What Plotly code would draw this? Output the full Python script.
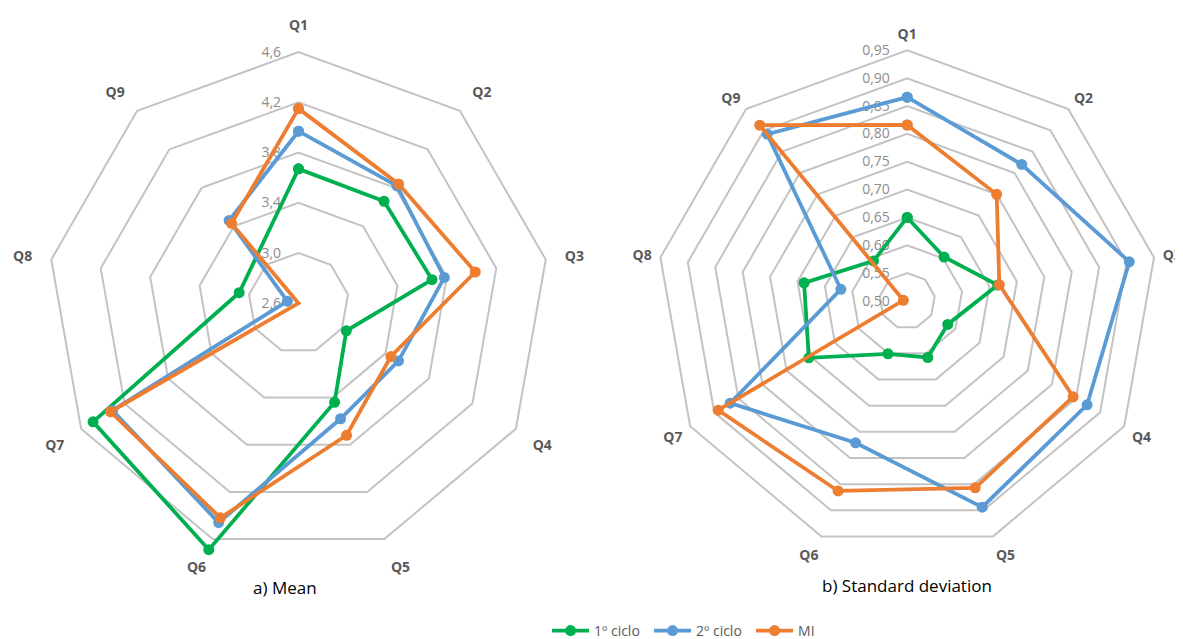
import plotly.graph_objects as go

categories = ["Q1", "Q2", "Q3", "Q4", "Q5", "Q6", "Q7", "Q8", "Q9"]

# a) Mean
mean_1ciclo = [3.67, 3.66, 3.68, 3.04, 3.44, 4.69, 4.49, 3.08, None]
mean_2ciclo = [3.97, 3.82, 3.78, 3.52, 3.58, 4.46, 4.31, 2.69, 3.46]
mean_mi = [4.15, 3.84, 4.03, 3.45, 3.72, 4.42, 4.33, 2.55, 3.43]

# b) Standard deviation
sd_1ciclo = [0.650, 0.603, 0.665, 0.584, 0.608, 0.601, 0.704, 0.688, 0.594]
sd_2ciclo = [0.866, 0.820, 0.905, 0.873, 0.894, 0.771, 0.867, 0.621, 0.891]
sd_mi = [0.816, 0.750, 0.668, 0.844, 0.857, 0.863, 0.892, 0.507, 0.912]

series_names = ["1º ciclo", "2º ciclo", "MI"]
colors = ["#00B050", "#5B9BD5", "#ED7D31"]

mean_ticks = [2.6, 3.0, 3.4, 3.8, 4.2, 4.6]
sd_ticks = [0.50, 0.55, 0.60, 0.65, 0.70, 0.75, 0.80, 0.85, 0.90, 0.95]

FONT = "Open Sans"
GRID = "#C3C3C3"


def closed(vals):
    return list(vals) + [vals[0]]


fig = go.Figure()

for name, color, m, s in zip(series_names, colors,
                             [mean_1ciclo, mean_2ciclo, mean_mi],
                             [sd_1ciclo, sd_2ciclo, sd_mi]):
    fig.add_trace(go.Scatterpolar(
        r=closed(m), theta=closed(categories), subplot="polar",
        mode="lines+markers", name=name, legendgroup=name,
        line=dict(color=color, width=3.8), marker=dict(color=color, size=11),
        connectgaps=True, cliponaxis=False, showlegend=True))
    fig.add_trace(go.Scatterpolar(
        r=closed(s), theta=closed(categories), subplot="polar2",
        mode="lines+markers", name=name, legendgroup=name,
        line=dict(color=color, width=3.8), marker=dict(color=color, size=11),
        connectgaps=True, cliponaxis=False, showlegend=False))


def polar_layout(domx, domy, rng, ticks, fmt):
    return dict(
        domain=dict(x=domx, y=domy),
        gridshape="linear",
        bgcolor="rgba(0,0,0,0)",
        radialaxis=dict(
            range=rng, tickvals=ticks, tickformat=fmt, angle=90, tickangle=90,
            side="counterclockwise", showline=False,
            ticks="outside", ticklen=12, tickcolor="rgba(0,0,0,0)",
            gridcolor=GRID, gridwidth=1.5, layer="below traces",
            tickfont=dict(family=FONT, size=14, color="#8C8C8C"),
        ),
        angularaxis=dict(
            type="category", categoryarray=categories,
            direction="clockwise", rotation=90,
            showgrid=False, showline=False, ticks="",
            tickfont=dict(family=FONT, size=14, color="#595959", weight="bold"),
        ),
    )


fig.update_layout(
    width=1183, height=639,
    margin=dict(l=0, r=0, t=0, b=0),
    paper_bgcolor="white",
    separators=",.",
    font=dict(family=FONT),
    polar=polar_layout([0.01564, 0.47549], [0.10876, 0.96009], [2.6, 4.75],
                       mean_ticks, ".1f"),
    polar2=polar_layout([0.53947, 0.98073], [0.12942, 0.94632], [0.50, 0.965],
                        sd_ticks, ".2f"),
    legend=dict(orientation="h", x=0.585, xanchor="center", y=0.017,
                yanchor="middle", entrywidth=50, entrywidthmode="pixels",
                itemwidth=37,
                font=dict(family=FONT, size=14, color="#595959"),
                bgcolor="rgba(0,0,0,0)"),
    annotations=[
        dict(text="a) Mean", x=0.2342, y=0.0861, xref="paper", yref="paper",
             xanchor="center", yanchor="middle",
             showarrow=False, font=dict(family=FONT, size=17, color="black")),
        dict(text="b) Standard deviation", x=0.7599, y=0.0892, xref="paper",
             yref="paper", xanchor="center", yanchor="middle", showarrow=False,
             font=dict(family=FONT, size=17, color="black")),
    ],
)

fig.write_html("out.html")
